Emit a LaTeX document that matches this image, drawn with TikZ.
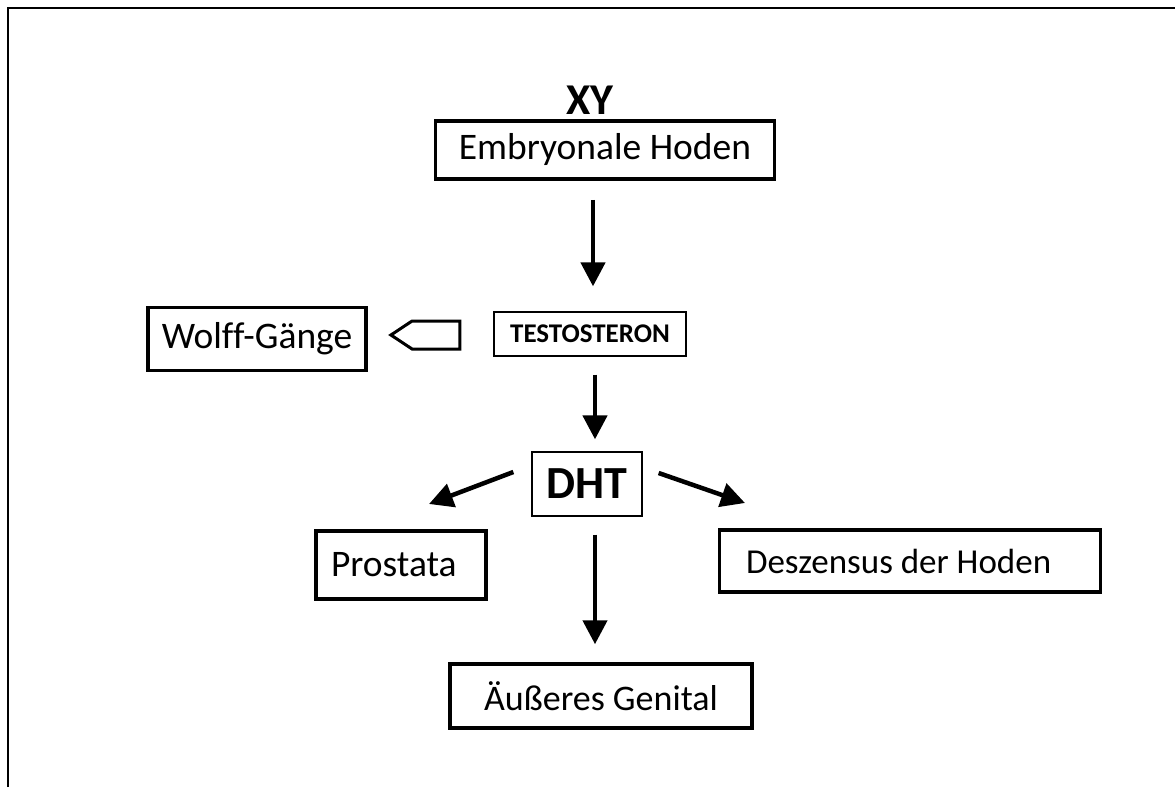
\documentclass[tikz,border=0pt]{standalone}
\usepackage{fontspec}
\setmainfont{Carlito}[Ligatures=CommonOff]
\usetikzlibrary{arrows.meta,shapes.symbols}
\tikzset{
  bigbox/.style={draw, line width=3.5pt, inner sep=0pt, font=\fontsize{37.5}{42}\selectfont},
  smallbox/.style={draw, line width=1.3pt, inner sep=0pt, font=\bfseries},
  flow/.style={-{Triangle[length=24pt,width=24pt]}, line width=4.5pt}
}
\begin{document}
\begin{tikzpicture}[x=1pt,y=-1pt]
\useasboundingbox (0,0) rectangle (1175,787);
\draw[line width=2pt] (8,787) -- (8,8) -- (1175,8);

\node[font=\fontsize{44}{48}\selectfont\bfseries] (xy) at (590,100) {XY};
\node[bigbox, minimum width=339pt, minimum height=58pt] (emb) at (605,150) {Embryonale Hoden};
\node[smallbox, minimum width=192pt, minimum height=44pt, font=\fontsize{27}{30}\selectfont\bfseries] (testo) at (590,334) {TESTOSTERON};
\node[bigbox, minimum width=218pt, minimum height=63pt] (wolff) at (257,339) {Wolff-Gänge};
\node[draw, line width=3pt, signal, signal to=west, signal pointer angle=67,
  minimum width=69pt, minimum height=28pt, inner sep=0pt] (block) at (436,335) {};
\node[smallbox, minimum width=110pt, minimum height=64pt, font=\fontsize{46}{50}\selectfont\bfseries] (dht) at (587,484) {DHT};
\node[bigbox, minimum width=167pt, minimum height=68pt, text width=140pt, align=flush left, inner xsep=15pt] (prost) at (401,565) {Prostata};
\node[bigbox, minimum width=381pt, minimum height=62pt, text width=328pt, align=flush left, inner xsep=25pt, font=\fontsize{35}{40}\selectfont] (desz) at (910,561) {Deszensus der Hoden};
\node[bigbox, minimum width=302pt, minimum height=64pt, font=\fontsize{36}{40}\selectfont] (genital) at (601,696) {Äußeres Genital};

\coordinate (prost-in) at (429,504);
\coordinate (desz-in) at (745,503);

\draw[flow, shorten <=19pt, shorten >=25pt] ([xshift=3pt]emb.south -| testo) -- ([xshift=3pt]testo.north);
\draw[flow, shorten <=18pt, shorten >=12pt] ([xshift=5pt]testo.south) -- ([xshift=5pt]testo.south |- dht.north);
\draw[flow, shorten <=18pt, shorten >=18pt] ([xshift=8pt]dht.south) -- ([xshift=8pt]dht.south |- genital.north);
\draw[flow] ([xshift=-18pt,yshift=12pt]dht.west) -- (prost-in);
\draw[flow] ([xshift=16pt,yshift=11pt]dht.east) -- (desz-in);
\end{tikzpicture}
\end{document}
